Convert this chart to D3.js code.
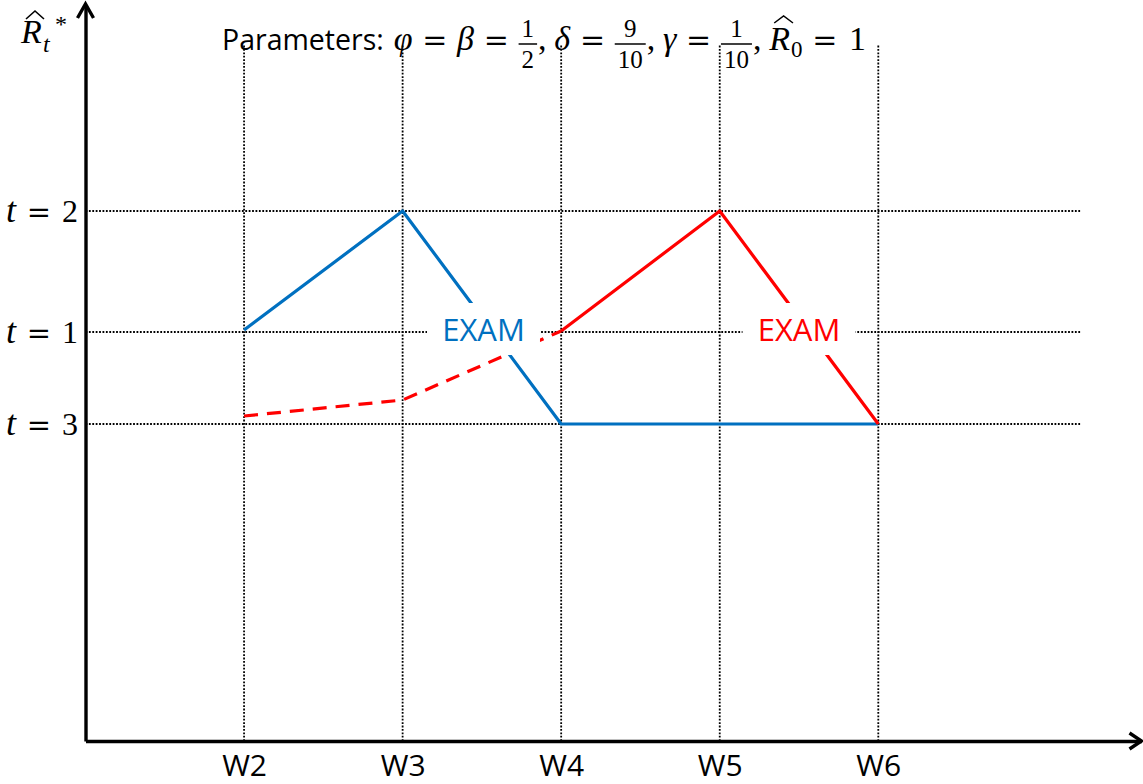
<!DOCTYPE html>
<html><head><meta charset="utf-8">
<script src="https://cdn.jsdelivr.net/npm/d3@7"></script>
<style>body{margin:0;background:#fff}</style>
</head><body>
<svg id="c" width="1143" height="784"></svg>
<script>
// ---- data ----
const weeks = ["W2","W3","W4","W5","W6"];
const weekIdx = [2,3,4,5,6];
const levelLabels = ["2","1","3"];
const levelValues = [5.30, 4.09, 3.17];
const blueX = [2,3,4,5,6];
const blueY = [4.11,5.30,3.17,3.17,3.17];
const redSolidX = [4,5,6];
const redSolidY = [4.10,5.30,3.17];
const redDashX = [2,3,4];
const redDashY = [3.25,3.41,4.10];
const examX = [3.51, 5.50];
const examY = [4.12, 4.12];
const examColors = ["#0070C0","#FF0000"];
const examText = ["EXAM","EXAM"];

const svg = d3.select("#c");
const x = d3.scaleLinear().domain([1, 7.66]).range([85.5, 1141.5]);
const y = d3.scaleLinear().domain([0, 7.36]).range([741, 5]);
const BLUE = "#0070C0", RED = "#FF0000";
const SANS = "'Open Sans','Noto Sans',sans-serif";
const SERIF = "'Liberation Serif','DejaVu Serif',serif";
const EQ = "'DejaVu Serif','Liberation Serif',serif";

// grid
const grid = svg.append("g");
grid.selectAll("line.v").data(weekIdx).join("line")
  .attr("x1", d => x(d)).attr("x2", d => x(d))
  .attr("y1", y(0)).attr("y2", y(6.96))
  .attr("stroke", "#000").attr("stroke-width", 1.8).attr("stroke-dasharray", "1.8,1.6");
grid.selectAll("line.h").data(levelValues).join("line")
  .attr("x1", x(1)).attr("x2", x(7.28))
  .attr("y1", d => y(d)).attr("y2", d => y(d))
  .attr("stroke", "#000").attr("stroke-width", 1.8).attr("stroke-dasharray", "1.8,1.6");

// lines
const line = d3.line().x(d => x(d[0])).y(d => y(d[1]));
svg.append("path").datum(d3.zip(blueX, blueY)).attr("d", line)
  .attr("fill", "none").attr("stroke", BLUE).attr("stroke-width", 3.2).attr("stroke-linejoin", "round");
svg.append("path").datum(d3.zip(redSolidX, redSolidY)).attr("d", line)
  .attr("fill", "none").attr("stroke", RED).attr("stroke-width", 3.2).attr("stroke-linejoin", "round");
svg.append("path").datum(d3.zip(redDashX, redDashY)).attr("d", line)
  .attr("fill", "none").attr("stroke", RED).attr("stroke-width", 3.2).attr("stroke-dasharray", "14,9");

// exam labels
const ex = svg.append("g");
examX.forEach((ev, i) => {
  const cx = x(ev), cy = y(examY[i]);
  ex.append("rect").attr("x", cx - 56.5).attr("y", cy - 26).attr("width", 113).attr("height", 52).attr("fill", "#fff");
  ex.append("text").attr("x", cx).attr("y", cy + 11.5).attr("text-anchor", "middle")
    .attr("font-family", SANS).attr("font-size", 31).attr("fill", examColors[i]).text(examText[i]);
});

// axes
const xAxis = d3.axisBottom(x).tickValues(weekIdx).tickFormat((d, i) => weeks[i]).tickSize(0).tickPadding(14);
const gx = svg.append("g").attr("transform", `translate(0,${y(0)})`).call(xAxis);
gx.select(".domain").attr("stroke", "#000").attr("stroke-width", 3.4);
gx.selectAll("text").attr("font-family", SANS).attr("font-size", 30).attr("fill", "#000");
const yAxis = d3.axisLeft(y).tickValues([]).tickSizeOuter(0);
const gy = svg.append("g").attr("transform", `translate(${x(1)},0)`).call(yAxis);
gy.select(".domain").attr("stroke", "#000").attr("stroke-width", 3.4);
// arrow heads
svg.append("path").attr("d", `M${x(1)-8},${y(7.36)+13}L${x(1)},${y(7.36)-1}L${x(1)+8},${y(7.36)+13}`)
  .attr("fill", "none").attr("stroke", "#000").attr("stroke-width", 3.4).attr("stroke-linejoin", "miter");
svg.append("path").attr("d", `M${x(7.66)-12},${y(0)-8}L${x(7.66)},${y(0)}L${x(7.66)-12},${y(0)+8}`)
  .attr("fill", "none").attr("stroke", "#000").attr("stroke-width", 3.4).attr("stroke-linejoin", "miter");

// y level labels
const yl = svg.append("g");
levelValues.forEach((v, i) => {
  const by = y(v) + 11;
  yl.append("text").attr("x", 6).attr("y", by).attr("font-family", SERIF).attr("font-style", "italic").attr("font-size", 36).text("t");
  yl.append("text").attr("x", 39).attr("y", by).attr("text-anchor", "middle").attr("font-family", EQ).attr("font-size", 29).text("=");
  yl.append("text").attr("x", 78).attr("y", by).attr("text-anchor", "end").attr("font-family", SERIF).attr("font-size", 32).text(levelLabels[i]);
});

// top-left axis label R-hat_t^*
const al = svg.append("g");
al.append("text").attr("x", 21).attr("y", 43).attr("font-family", SERIF).attr("font-style", "italic").attr("font-size", 34).text("R");
al.append("path").attr("d", "M26,19L35,11L44,19").attr("fill", "none").attr("stroke", "#000").attr("stroke-width", 1.6);
al.append("text").attr("x", 43).attr("y", 52).attr("font-family", SERIF).attr("font-style", "italic").attr("font-size", 24).text("t");
al.append("text").attr("x", 55).attr("y", 32).attr("font-family", SERIF).attr("font-size", 24).text("*");

// title with math
const BASE = 50;
function txt(s, opts) { return Object.assign({t: s}, opts); }
const lead = {gap: 10, fixed: true};
const tokens = [
  txt("Parameters:", {fam: SANS, size: 28.5}), lead,
  txt("φ", {it: true}), {gap: 10}, txt("=", {fam: EQ, size: 30}), {gap: 10},
  txt("β", {it: true}), {gap: 10}, txt("=", {fam: EQ, size: 30}), {gap: 10},
  {frac: ["1", "2"]}, txt(",", {}), {gap: 8},
  txt("δ", {it: true}), {gap: 10}, txt("=", {fam: EQ, size: 30}), {gap: 10},
  {frac: ["9", "10"]}, txt(",", {}), {gap: 8},
  txt("γ", {it: true}), {gap: 10}, txt("=", {fam: EQ, size: 30}), {gap: 10},
  {frac: ["1", "10"]}, txt(",", {}), {gap: 8},
  {hatR: true}, {gap: 10}, txt("=", {fam: EQ, size: 30}), {gap: 12},
  txt("1", {})
];
function flow(g, x0, base, toks, gapScale) {
  let cx = x0;
  toks.forEach(tk => {
    if (tk.gap) { cx += tk.fixed ? tk.gap : tk.gap * gapScale; return; }
    if (tk.frac) {
      const n = g.append("text").attr("y", base - 13).attr("text-anchor", "middle").attr("font-family", SERIF).attr("font-size", 25).text(tk.frac[0]);
      const d = g.append("text").attr("y", base + 18).attr("text-anchor", "middle").attr("font-family", SERIF).attr("font-size", 25).text(tk.frac[1]);
      const w = Math.max(n.node().getComputedTextLength(), d.node().getComputedTextLength()) + 6;
      n.attr("x", cx + w / 2); d.attr("x", cx + w / 2);
      g.append("line").attr("x1", cx).attr("x2", cx + w).attr("y1", base - 6).attr("y2", base - 6).attr("stroke", "#000").attr("stroke-width", 1.5);
      cx += w + 1;
      return;
    }
    if (tk.hatR) {
      const r = g.append("text").attr("x", cx).attr("y", base).attr("font-family", SERIF).attr("font-style", "italic").attr("font-size", 34).text("R");
      const rw = r.node().getComputedTextLength();
      g.append("path").attr("d", `M${cx + 5},${base - 27}L${cx + rw / 2 + 4},${base - 34}L${cx + rw + 3},${base - 27}`).attr("fill", "none").attr("stroke", "#000").attr("stroke-width", 1.5);
      cx += rw + 1;
      const s = g.append("text").attr("x", cx).attr("y", base + 7).attr("font-family", SERIF).attr("font-size", 23).text("0");
      cx += s.node().getComputedTextLength();
      return;
    }
    const t = g.append("text").attr("x", cx).attr("y", base)
      .attr("font-family", tk.fam || SERIF).attr("font-size", tk.size || 34)
      .attr("font-style", tk.it ? "italic" : null).text(tk.t);
    cx += t.node().getComputedTextLength();
  });
  return cx;
}
// first pass to measure, second pass with gaps stretched to reach target end
const probe = svg.append("g").attr("opacity", 0);
const natEnd = flow(probe, 222, BASE, tokens, 1);
probe.remove();
const gapSum = d3.sum(tokens.filter(t => t.gap && !t.fixed), t => t.gap);
const targetEnd = 866;
const scale = Math.max(0.5, 1 + (targetEnd - natEnd) / gapSum);
flow(svg.append("g"), 222, BASE, tokens, scale);
</script>
</body></html>
